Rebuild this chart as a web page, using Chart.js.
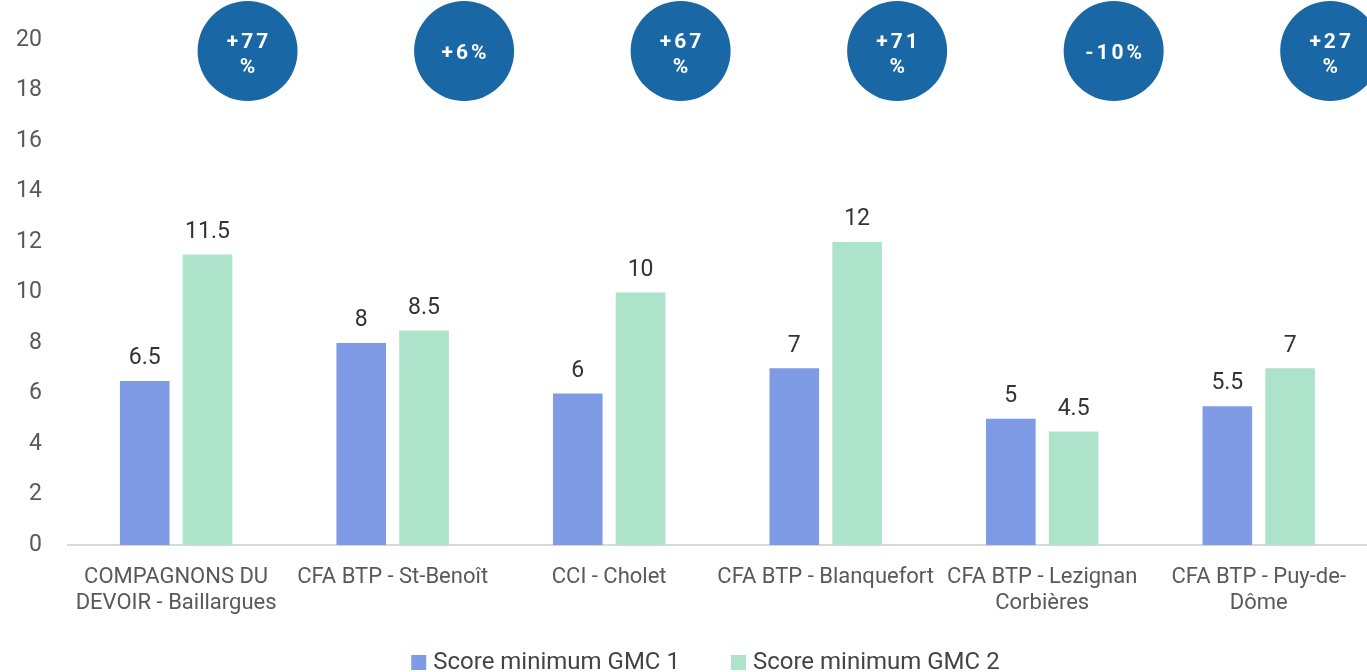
<!DOCTYPE html>
<html>
<head>
<meta charset="utf-8">
<script src="https://cdn.jsdelivr.net/npm/chart.js@4"></script>
<style>
  html, body { margin: 0; padding: 0; background: #fff; }
  #wrap { width: 1367px; height: 672px; }
</style>
</head>
<body>
<div id="wrap"><canvas id="myChart"></canvas></div>
<script>
// Données
const categories = [
  ['COMPAGNONS DU', 'DEVOIR - Baillargues'],
  'CFA BTP - St-Benoît',
  'CCI - Cholet',
  'CFA BTP - Blanquefort',
  ['CFA BTP - Lezignan', 'Corbières'],
  ['CFA BTP - Puy-de-', 'Dôme']
];
const gmc1 = [6.5, 8, 6, 7, 5, 5.5];
const gmc2 = [11.5, 8.5, 10, 12, 4.5, 7];
const evolution = [['+77', '%'], ['+6%'], ['+67', '%'], ['+71', '%'], ['-10%'], ['+27', '%']];
const yTicks = [0, 2, 4, 6, 8, 10, 12, 14, 16, 18, 20];

const FONT = 'Roboto';
Chart.defaults.font.family = FONT;

// valeurs au-dessus des barres
const valueLabels = {
  id: 'valueLabels',
  afterDatasetsDraw(chart) {
    const c = chart.ctx;
    c.save();
    c.font = '23px ' + FONT;
    c.fillStyle = '#333';
    c.textAlign = 'center';
    c.textBaseline = 'bottom';
    chart.data.datasets.forEach((ds, i) => {
      chart.getDatasetMeta(i).data.forEach((bar, j) => {
        c.fillText(String(ds.data[j]), bar.x, bar.y - 11);
      });
    });
    c.restore();
  }
};

// bulles d'évolution
const bubbles = {
  id: 'bubbles',
  afterDraw(chart) {
    const c = chart.ctx;
    const xs = chart.scales.x;
    const step = xs.getPixelForValue(1) - xs.getPixelForValue(0);
    c.save();
    evolution.forEach((lines, i) => {
      const cx = xs.getPixelForValue(i) + step * 0.33;
      const cy = 51;
      c.beginPath();
      c.arc(cx, cy, 50, 0, Math.PI * 2);
      c.fillStyle = '#1a67a6';
      c.fill();
      c.fillStyle = '#fff';
      c.font = 'bold 21px ' + FONT;
      c.letterSpacing = '3px';
      c.textAlign = 'center';
      c.textBaseline = 'middle';
      if (lines.length === 1) {
        c.fillText(lines[0], cx + 1.5, cy + 3);
      } else {
        c.fillText(lines[0], cx + 1.5, cy - 8);
        c.fillText(lines[1], cx + 1.5, cy + 17);
      }
    });
    c.restore();
  }
};

// légende en bas (dessinée à la main pour l'espacement)
const bottomLegend = {
  id: 'bottomLegend',
  afterDraw(chart) {
    const c = chart.ctx;
    const area = chart.chartArea;
    c.save();
    c.font = '24px ' + FONT;
    c.textBaseline = 'middle';
    const items = chart.data.datasets.map(ds => ({
      text: ds.label, color: ds.backgroundColor, w: c.measureText(ds.label).width
    }));
    const gap = 51, box = 15, boxGap = 7;
    const total = items.reduce((s, it) => s + box + boxGap + it.w, 0) + gap * (items.length - 1);
    let x = (area.left + area.right) / 2 - 12 - total / 2;
    const y = 662;
    items.forEach(it => {
      c.fillStyle = it.color;
      c.fillRect(x, y - 7, box, box);
      x += box + boxGap;
      c.fillStyle = '#444';
      c.fillText(it.text, x, y + 1);
      x += it.w + gap;
    });
    c.restore();
  }
};

new Chart(document.getElementById('myChart'), {
  type: 'bar',
  data: {
    labels: categories,
    datasets: [{
      label: 'Score minimum GMC 1',
      data: gmc1,
      backgroundColor: '#7f9be6',
      categoryPercentage: 0.58,
      barPercentage: 0.79
    }, {
      label: 'Score minimum GMC 2',
      data: gmc2,
      backgroundColor: '#aee3cb',
      categoryPercentage: 0.58,
      barPercentage: 0.79
    }]
  },
  options: {
    responsive: true,
    maintainAspectRatio: false,
    animation: false,
    layout: { padding: { top: 39, left: -10, right: 0, bottom: 36 } },
    scales: {
      x: {
        grid: { display: false, drawTicks: false },
        border: { color: '#d9d9d9', width: 2 },
        ticks: {
          color: '#595959',
          padding: 19,
          maxRotation: 0,
          autoSkip: false,
          font: { size: 22, family: FONT, lineHeight: 1.2 }
        }
      },
      y: {
        min: 0,
        max: 20,
        afterBuildTicks(axis) { axis.ticks = yTicks.map(v => ({ value: v })); },
        grid: { display: false, drawTicks: false },
        border: { display: false },
        ticks: {
          color: '#595959',
          padding: 26,
          font: { size: 23, family: FONT }
        }
      }
    },
    plugins: {
      legend: { display: false },
      tooltip: { enabled: false }
    }
  },
  plugins: [valueLabels, bubbles, bottomLegend]
});
</script>
</body>
</html>
